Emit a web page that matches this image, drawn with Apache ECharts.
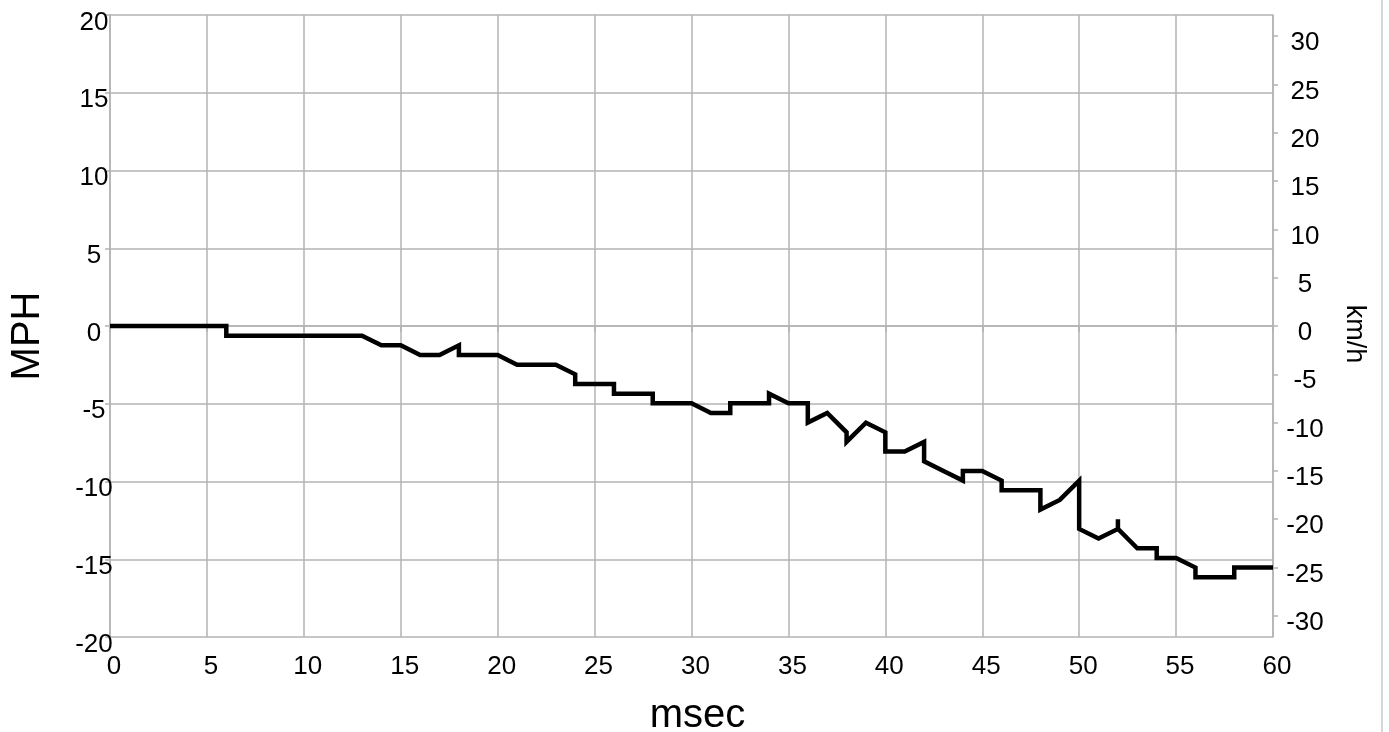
<!DOCTYPE html>
<html>
<head>
<meta charset="utf-8">
<script src="https://cdn.jsdelivr.net/npm/echarts@6/dist/echarts.min.js"></script>
<style>
  html, body { margin: 0; padding: 0; background: #fff; }
  #chart { width: 1389px; height: 732px; }
</style>
</head>
<body>
<div id="chart"></div>
<script>
// time in msec; speed read in whole km/h (the right axis)
const timeMs = [
  0, 1, 2, 3, 4, 5, 6, 6, 7, 8, 9, 10, 11, 12, 13, 14, 15, 16, 17, 18, 18, 19, 20,
  21, 22, 23, 24, 24, 25, 26, 26, 27, 28, 28, 29, 30, 31, 32, 32, 33, 34, 34, 35, 36,
  36, 37, 38, 38, 39, 40, 40, 41, 42, 42, 43, 44, 44, 45, 46, 46, 47, 48, 48, 49, 50,
  50, 51, 52, 52, 52, 53, 54, 54, 55, 56, 56, 57, 58, 58, 59, 60
]
const speedKmh = [
  0, 0, 0, 0, 0, 0, 0, -1, -1, -1, -1, -1, -1, -1, -1, -2, -2, -3, -3, -2, -3, -3, -3,
  -4, -4, -4, -5, -6, -6, -6, -7, -7, -7, -8, -8, -8, -9, -9, -8, -8, -8, -7, -8, -8,
  -10, -9, -11, -12, -10, -11, -13, -13, -12, -14, -15, -16, -15, -15, -16, -17, -17, -17, -19, -18, -16,
  -21, -22, -21, -20, -21, -23, -23, -24, -24, -25, -26, -26, -26, -25, -25, -25
]

// axis ranges: MPH on the left, the same span in km/h on the right
const mphMin = -20
const mphMax = 20
const kmhLimit = 32.187

const gridColor = '#b3b3b3'
const fontFamily = '"Liberation Sans", Arial, sans-serif'

const chart = echarts.init(document.getElementById('chart'))

const points = timeMs.map((t, i) => [t, speedKmh[i]])

chart.setOption({
  backgroundColor: '#ffffff',
  animation: false,
  textStyle: { fontFamily },
  grid: {
    left: 110,
    right: 116,
    top: 15,
    bottom: 95,
    outerBoundsMode: 'none',
  },
  xAxis: {
    type: 'value',
    min: 0,
    max: 60,
    interval: 5,
    name: 'msec',
    nameLocation: 'middle',
    nameGap: 59,
    nameTextStyle: { color: '#000', fontSize: 40, fontFamily, padding: [0, 0, 0, 12] },
    axisLine: { show: true, lineStyle: { color: gridColor, width: 1.5 } },
    axisTick: { show: true, length: 6, lineStyle: { color: gridColor, width: 1.5 } },
    axisLabel: { color: '#000', fontSize: 26, margin: 17, padding: [0, 0, 0, 8], fontFamily },
    splitLine: { show: true, lineStyle: { color: gridColor, width: 1.5 } },
  },
  yAxis: [
    {
      type: 'value',
      min: mphMin,
      max: mphMax,
      interval: 5,
      name: 'MPH',
      nameLocation: 'middle',
      nameGap: 62,
      nameTextStyle: { color: '#000', fontSize: 40, fontFamily, padding: [0, 20, 0, 0] },
      axisLine: { show: true, lineStyle: { color: gridColor, width: 1.5 } },
      axisTick: { show: true, length: 5, lineStyle: { color: gridColor, width: 1.5 } },
      axisLabel: {
        color: '#000',
        fontSize: 26,
        margin: 16,
        align: 'center',
        verticalAlign: 'top',
        lineHeight: 15,
        fontFamily,
      },
      splitLine: { show: true, lineStyle: { color: gridColor, width: 1.5 } },
    },
    {
      type: 'value',
      position: 'right',
      min: -kmhLimit,
      max: kmhLimit,
      splitNumber: 13,
      minInterval: 5,
      maxInterval: 5,
      name: 'km/h',
      nameLocation: 'middle',
      nameRotate: -90,
      nameGap: 68,
      nameTextStyle: { color: '#000', fontSize: 27, fontFamily, padding: [0, 0, 0, 16] },
      axisLine: { show: true, lineStyle: { color: gridColor, width: 1.5 } },
      axisTick: { show: true, length: 5, lineStyle: { color: gridColor, width: 1.5 } },
      axisLabel: {
        color: '#000',
        fontSize: 26,
        margin: 32,
        align: 'center',
        verticalAlign: 'top',
        lineHeight: 14,
        fontFamily,
        showMinLabel: false,
        showMaxLabel: false,
        formatter: (v) => (Math.abs(v % 5) < 1e-6 ? String(Math.round(v)) : ''),
      },
      splitLine: { show: false },
    },
  ],
  graphic: [
    {
      type: 'line',
      shape: { x1: 1382, y1: 0, x2: 1382, y2: 732 },
      style: { stroke: '#c8c8c8', lineWidth: 1.5 },
    },
  ],
  series: [
    {
      name: 'speed',
      type: 'line',
      yAxisIndex: 1,
      showSymbol: false,
      symbol: 'none',
      lineStyle: { color: '#000', width: 4.5, join: 'miter' },
      data: points,
    },
  ],
})
</script>
</body>
</html>
